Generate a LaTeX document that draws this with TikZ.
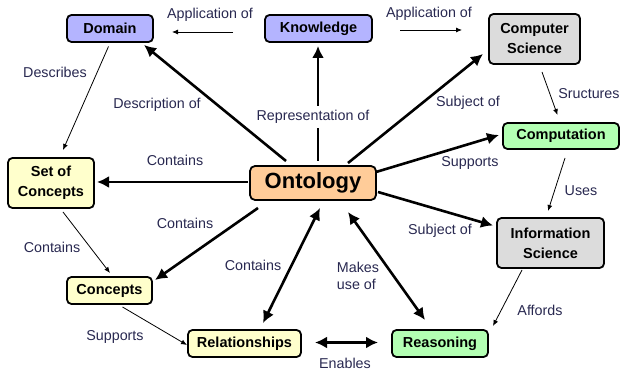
\documentclass[tikz,border=0pt]{standalone}
\usepackage{fontspec}
\setmainfont{Liberation Sans}
\usetikzlibrary{arrows.meta,calc}
\definecolor{lavender}{RGB}{180,180,255}
\definecolor{paleyellow}{RGB}{255,255,204}
\definecolor{peach}{RGB}{255,204,153}
\definecolor{palegreen}{RGB}{179,255,179}
\definecolor{lightgray}{RGB}{220,220,220}
\definecolor{labelink}{RGB}{40,40,80}
\tikzset{
  concept/.style={draw=black, line width=1.8pt, rounded corners=4.5pt,
    inner sep=0pt, align=center, font=\fontsize{14.5}{20}\selectfont\bfseries},
  linklabel/.style={text=labelink, inner sep=1pt, align=center,
    font=\fontsize{14.3}{17}\selectfont},
  strong/.style={line width=2.6pt, -{Latex[length=12pt,width=12pt]}},
  strongboth/.style={line width=2.6pt, {Latex[length=12pt,width=12pt]}-{Latex[length=12pt,width=12pt]}},
  weak/.style={line width=0.8pt, -{Latex[length=6pt,width=5pt]}}
}
\begin{document}
\begin{tikzpicture}[x=1pt,y=-1pt]
\useasboundingbox (0,0) rectangle (621,371);

% concepts
\node[concept, fill=lavender, minimum width=86pt, minimum height=27pt] (domain) at (110,28.5) {Domain};
\node[concept, fill=lavender, minimum width=107pt, minimum height=27pt] (knowledge) at (318.5,28.5) {Knowledge};
\node[concept, fill=lightgray, minimum width=91pt, minimum height=50pt] (cs) at (534.5,39) {Computer\\Science};
\node[concept, fill=palegreen, minimum width=116pt, minimum height=26pt] (comp) at (561,136) {Computation};
\node[concept, fill=lightgray, minimum width=107pt, minimum height=50pt] (info) at (550.5,243) {Information\\Science};
\node[concept, fill=palegreen, minimum width=96pt, minimum height=27pt] (reason) at (440,343.5) {Reasoning};
\node[concept, fill=paleyellow, minimum width=113pt, minimum height=27pt] (rel) at (244.5,343.5) {Relationships};
\node[concept, fill=paleyellow, minimum width=85pt, minimum height=27pt] (conc) at (109.5,290.5) {Concepts};
\node[concept, fill=paleyellow, minimum width=86pt, minimum height=50pt] (setc) at (51,183) {Set of\\Concepts};
\node[concept, fill=peach, minimum width=126pt, minimum height=34pt, rounded corners=5pt,
  font=\fontsize{22}{26}\selectfont\bfseries] (onto) at (313,183) {Ontology};

% links leaving Ontology
\draw[strong] ($(onto)+(-27,-22)$) -- ($(domain)+(34,16.5)$);
\draw[strong] ($(onto)+(5,-22)$) -- ($(knowledge)+(-0.5,17.5)$);
\draw[strong] ($(onto)+(35,-20)$) -- ($(cs)+(-51.5,15)$);
\draw[strong] ($(onto)+(63,-11)$) -- ($(comp)+(-62,-1)$);
\draw[strong] ($(onto)+(-65,-1)$) -- ($(setc)+(46,-1)$);
\draw[strong] ($(onto)+(65,9)$) -- ($(info)+(-57.5,-17.5)$);
\draw[strong] ($(onto)+(-55,25)$) -- ($(conc)+(45.5,-10.5)$);
\draw[strongboth] ($(onto)+(7,25)$) -- ($(rel)+(18.5,-20.5)$);
\draw[strongboth] ($(onto)+(35,29)$) -- ($(reason)+(-15,-23.5)$);
\draw[strongboth] ($(rel)+(70.5,-1)$) -- ($(reason)+(-62,-1)$);

% other links
\draw[weak] ($(knowledge)+(-85.5,3.5)$) -- ($(domain)+(62,3.5)$);
\draw[weak] ($(knowledge)+(81.5,1.5)$) -- ($(cs)+(-72.5,-9)$);
\draw[weak] ($(domain)+(-1.5,18)$) -- ($(setc)+(12,-33)$);
\draw[weak] ($(setc)+(12,29)$) -- ($(conc)+(0.5,-17.5)$);
\draw[weak] ($(conc)+(13,16.5)$) -- ($(rel)+(-57.5,1.5)$);
\draw[weak] ($(cs)+(7.5,33)$) -- ($(comp)+(-3.5,-21)$);
\draw[weak] ($(comp)+(4,22)$) -- ($(info)+(-2.5,-32)$);
\draw[weak] ($(info)+(-28.5,27)$) -- ($(reason)+(53,-17.5)$);

% link labels
\node[linklabel] (l1) at (210,15) {Application of};
\node[linklabel] (l2) at (429,14) {Application of};
\node[linklabel] (l3) at (55,72) {Describes};
\node[linklabel] (l4) at (157,105) {Description of};
\node[linklabel, fill=white, inner ysep=4pt] (l5) at (313,117) {Representation of};
\node[linklabel] (l6) at (175,160) {Contains};
\node[linklabel] (l7) at (468,103) {Subject of};
\node[linklabel] (l8) at (470,163) {Supports};
\node[linklabel] (l9) at (589,94) {Sructures};
\node[linklabel] (l10) at (581,191) {Uses};
\node[linklabel] (l11) at (185,223) {Contains};
\node[linklabel] (l12) at (253,265) {Contains};
\node[linklabel] (l13) at (52,247) {Contains};
\node[linklabel] (l14) at (115,337) {Supports};
\node[linklabel] (l15) at (440,231) {Subject of};
\node[linklabel, align=left, font=\fontsize{14.3}{17}\selectfont] (l16) at (358,276) {Makes\\use of};
\node[linklabel] (l17) at (540,310) {Affords};
\node[linklabel] (l18) at (345,363) {Enables};
\end{tikzpicture}
\end{document}
